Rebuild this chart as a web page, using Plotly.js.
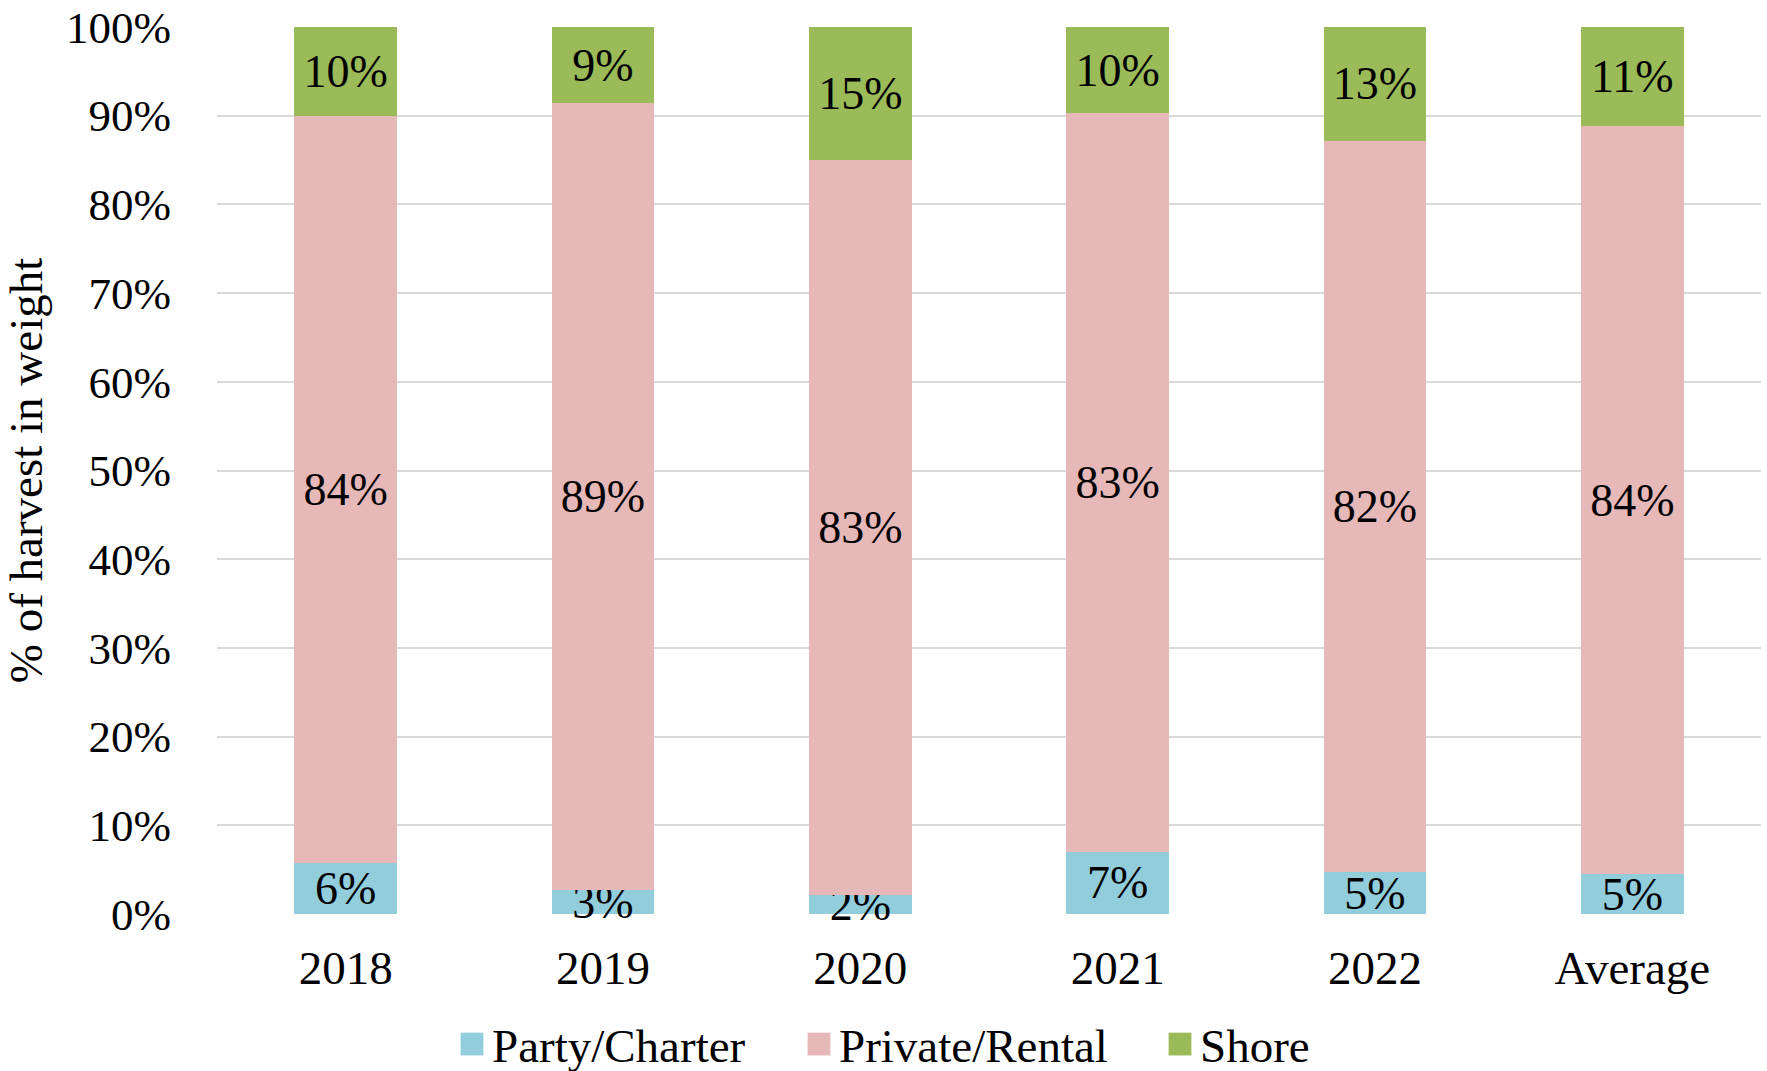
<!DOCTYPE html>
<html>
<head>
<meta charset="utf-8">
<script src="https://cdn.plot.ly/plotly-3.0.1.min.js"></script>
<style>html,body{margin:0;padding:0;background:#fff;}#chart{width:1767px;height:1071px;}</style>
</head>
<body>
<div id="chart"></div>
<script>
const categories = ["2018", "2019", "2020", "2021", "2022", "Average"];
const partyCharter = [5.8, 2.7, 2.1, 7.0, 4.7, 4.5];
const privateRental = [84.2, 88.7, 82.9, 83.3, 82.45, 84.3];
const shore = [10.0, 8.6, 15.0, 9.7, 12.85, 11.2];
const seriesNames = ["Party/Charter", "Private/Rental", "Shore"];
const seriesColors = ["#92CDDC", "#E6B8B7", "#9BBB59"];

const FONT = '"Liberation Serif", "Times New Roman", serif';
const legendWidths = [302, 316, null];

const seriesValues = [partyCharter, privateRental, shore];
const traces = seriesValues.map((vals, i) => {
  const t = {
    type: 'bar',
    name: seriesNames[i],
    x: categories,
    y: vals,
    marker: {color: seriesColors[i], line: {width: 0}},
    texttemplate: '%{y:.0f}%',
    textposition: 'inside',
    insidetextanchor: 'middle',
    constraintext: 'none',
    textangle: 0,
    cliponaxis: false,
    textfont: {family: FONT, size: 46, color: '#000'},
    hoverinfo: 'skip'
  };
  if (legendWidths[i]) t.legendwidth = legendWidths[i];
  return t;
});

const layout = {
  width: 1767,
  height: 1071,
  barmode: 'stack',
  bargap: 0.6,
  paper_bgcolor: '#fff',
  plot_bgcolor: '#fff',
  font: {family: FONT, color: '#000', size: 46},
  margin: {l: 217, r: 6, t: 27, b: 157, pad: 0},
  xaxis: {
    type: 'category',
    showgrid: false,
    showline: false,
    zeroline: false,
    ticks: '',
    tickfont: {family: FONT, size: 47, color: '#000'},
    ticklabelstandoff: 22
  },
  yaxis: {
    range: [0, 100],
    dtick: 10,
    ticksuffix: '%',
    showgrid: true,
    gridcolor: '#D9D9D9',
    gridwidth: 2,
    zeroline: false,
    showline: false,
    ticks: '',
    tickfont: {family: FONT, size: 45, color: '#000'},
    ticklabelstandoff: 45,
    title: {text: '% of harvest in weight', font: {family: FONT, size: 47, color: '#000'}, standoff: 10}
  },
  showlegend: true,
  legend: {
    orientation: 'h',
    xref: 'container',
    yref: 'container',
    x: 0.5,
    xanchor: 'center',
    y: 0,
    yanchor: 'bottom',
    font: {family: FONT, size: 47, color: '#000'},
    traceorder: 'normal',
    itemwidth: 30
  }
};

Plotly.newPlot('chart', traces, layout, {displayModeBar: false, staticPlot: true}).then(gd => {
  gd.querySelectorAll('.legend .legendpoints path').forEach(p => {
    const t = p.getAttribute('transform') || '';
    p.setAttribute('transform', t + ' scale(1.9)');
  });
  const lg = gd.querySelector('g.legend');
  if (lg) {
    const t = lg.getAttribute('transform') || '';
    lg.setAttribute('transform', t + ' translate(0,11)');
  }
});
</script>
</body>
</html>
